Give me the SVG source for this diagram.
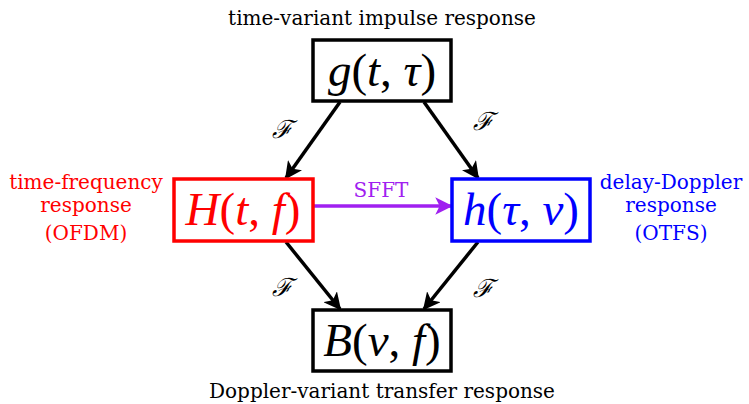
<svg xmlns="http://www.w3.org/2000/svg" width="749" height="404" viewBox="0 0 749 404">
<style>
text{text-anchor:middle}
.lbl{font-family:"DejaVu Serif",serif;font-size:20px}
.math{font-family:"Liberation Serif","Times New Roman",serif;font-size:47px}
.i{font-style:italic}
.box{fill:#fff;stroke-width:3.5}
.conn{stroke:#000;stroke-width:3.5;fill:none}
.F{font-family:"Liberation Serif",serif;font-size:25px;font-style:italic}
</style>
<defs>
<marker id="ah" viewBox="0 0 10 10" refX="9" refY="5" markerWidth="5" markerHeight="5" orient="auto" markerUnits="strokeWidth"><path d="M0,0 L10,5 L0,10 L2.5,5 z" fill="#000"/></marker>
<marker id="ahp" viewBox="0 0 10 10" refX="9" refY="5" markerWidth="5" markerHeight="5" orient="auto" markerUnits="strokeWidth"><path d="M0,0 L10,5 L0,10 L2.5,5 z" fill="#A020F0"/></marker>
</defs>
<g id="connectors">
<line class="conn" x1="340" y1="102" x2="286" y2="178" marker-end="url(#ah)"/>
<line class="conn" x1="424" y1="102" x2="478" y2="178" marker-end="url(#ah)"/>
<line class="conn" x1="286" y1="242" x2="340" y2="309" marker-end="url(#ah)"/>
<line class="conn" x1="478" y1="242" x2="424" y2="309" marker-end="url(#ah)"/>
<line x1="314" y1="206" x2="451" y2="206" stroke="#A020F0" stroke-width="3.5" marker-end="url(#ahp)"/>
<text class="F" x="282" y="138">ℱ</text>
<text class="F" x="483" y="130">ℱ</text>
<text class="F" x="282" y="296">ℱ</text>
<text class="F" x="483" y="297">ℱ</text>
<text class="lbl" x="381" y="197" fill="#A020F0">SFFT</text>
</g>
<g id="node-g">
<rect class="box" x="313" y="40" width="138" height="61" stroke="#000"/>
<text class="math" x="382" y="86"><tspan class="i">g</tspan>(<tspan class="i">t</tspan>, <tspan class="i">τ</tspan>)</text>
<text class="lbl" x="382" y="25">time-variant impulse response</text>
</g>
<g id="node-H">
<rect class="box" x="174" y="179" width="139" height="62" stroke="#FF0000"/>
<text class="math" x="243" y="225" fill="#FF0000"><tspan class="i">H</tspan>(<tspan class="i">t</tspan>, <tspan class="i">f</tspan>)</text>
<text class="lbl" x="86" y="189" fill="#FF0000">time-frequency</text>
<text class="lbl" x="86" y="212" fill="#FF0000">response</text>
<text class="lbl" x="86" y="240" fill="#FF0000">(OFDM)</text>
</g>
<g id="node-h">
<rect class="box" x="452" y="179" width="138" height="62" stroke="#0000FF"/>
<text class="math" x="521" y="225" fill="#0000FF"><tspan class="i">h</tspan>(<tspan class="i">τ</tspan>, <tspan class="i">ν</tspan>)</text>
<text class="lbl" x="671" y="189" fill="#0000FF">delay-Doppler</text>
<text class="lbl" x="671" y="212" fill="#0000FF">response</text>
<text class="lbl" x="671" y="240" fill="#0000FF">(OTFS)</text>
</g>
<g id="node-B">
<rect class="box" x="313" y="310" width="138" height="61" stroke="#000"/>
<text class="math" x="382" y="356"><tspan class="i">B</tspan>(<tspan class="i">ν</tspan>, <tspan class="i">f</tspan>)</text>
<text class="lbl" x="382" y="398">Doppler-variant transfer response</text>
</g>
</svg>
